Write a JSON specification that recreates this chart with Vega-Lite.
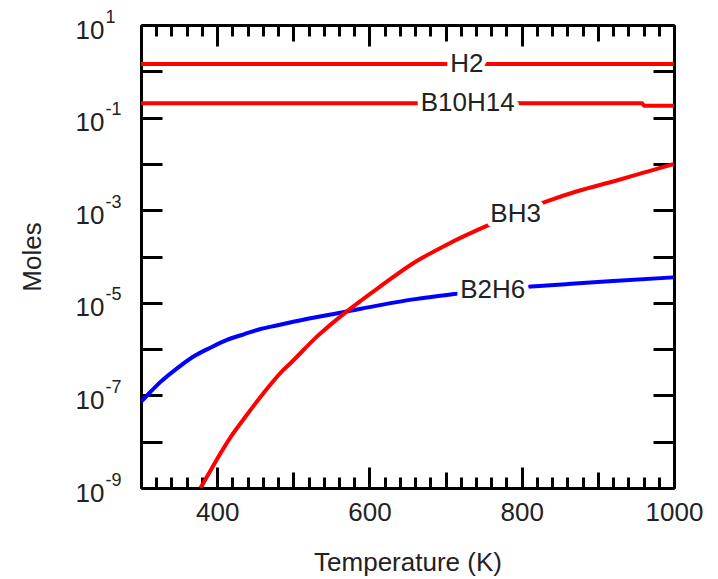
{
  "$schema": "https://vega.github.io/schema/vega-lite/v6.json",
  "width": 533,
  "height": 463,
  "autosize": {"type": "none"},
  "padding": {"left": 141, "top": 25, "right": 44, "bottom": 91},
  "background": "white",
  "config": {"view": {"stroke": null}, "font": "Liberation Sans"},
  "datasets": {
    "curves": [
      {"species": "H2", "T": 300, "moles": 1.44},
      {"species": "H2", "T": 1000, "moles": 1.44},
      {"species": "B10H14", "T": 300, "moles": 0.204},
      {"species": "B10H14", "T": 958, "moles": 0.204},
      {"species": "B10H14", "T": 961, "moles": 0.18},
      {"species": "B10H14", "T": 1000, "moles": 0.18},
      {"species": "B2H6", "T": 300, "moles": 7.24e-8},
      {"species": "B2H6", "T": 312, "moles": 1.17e-7},
      {"species": "B2H6", "T": 325, "moles": 1.91e-7},
      {"species": "B2H6", "T": 347, "moles": 3.8e-7},
      {"species": "B2H6", "T": 369, "moles": 6.92e-7},
      {"species": "B2H6", "T": 391, "moles": 1.07e-6},
      {"species": "B2H6", "T": 413, "moles": 1.58e-6},
      {"species": "B2H6", "T": 435, "moles": 2.09e-6},
      {"species": "B2H6", "T": 456, "moles": 2.69e-6},
      {"species": "B2H6", "T": 478, "moles": 3.24e-6},
      {"species": "B2H6", "T": 500, "moles": 3.89e-6},
      {"species": "B2H6", "T": 570, "moles": 6.46e-6},
      {"species": "B2H6", "T": 614, "moles": 8.91e-6},
      {"species": "B2H6", "T": 660, "moles": 1.2e-5},
      {"species": "B2H6", "T": 712, "moles": 1.55e-5},
      {"species": "B2H6", "T": 760, "moles": 1.91e-5},
      {"species": "B2H6", "T": 813, "moles": 2.24e-5},
      {"species": "B2H6", "T": 865, "moles": 2.57e-5},
      {"species": "B2H6", "T": 920, "moles": 2.95e-5},
      {"species": "B2H6", "T": 1000, "moles": 3.55e-5},
      {"species": "BH3", "T": 378, "moles": 1.0e-9},
      {"species": "BH3", "T": 382, "moles": 1.29e-9},
      {"species": "BH3", "T": 390, "moles": 2.19e-9},
      {"species": "BH3", "T": 399, "moles": 3.98e-9},
      {"species": "BH3", "T": 410, "moles": 7.94e-9},
      {"species": "BH3", "T": 421, "moles": 1.51e-8},
      {"species": "BH3", "T": 434, "moles": 2.95e-8},
      {"species": "BH3", "T": 460, "moles": 1.07e-7},
      {"species": "BH3", "T": 487, "moles": 3.55e-7},
      {"species": "BH3", "T": 496, "moles": 4.9e-7},
      {"species": "BH3", "T": 531, "moles": 1.86e-6},
      {"species": "BH3", "T": 570, "moles": 6.46e-6},
      {"species": "BH3", "T": 590, "moles": 1.15e-5},
      {"species": "BH3", "T": 614, "moles": 2.24e-5},
      {"species": "BH3", "T": 657, "moles": 7.08e-5},
      {"species": "BH3", "T": 701, "moles": 1.78e-4},
      {"species": "BH3", "T": 754, "moles": 4.57e-4},
      {"species": "BH3", "T": 790, "moles": 8.13e-4},
      {"species": "BH3", "T": 831, "moles": 1.51e-3},
      {"species": "BH3", "T": 875, "moles": 2.63e-3},
      {"species": "BH3", "T": 920, "moles": 4.17e-3},
      {"species": "BH3", "T": 960, "moles": 6.46e-3},
      {"species": "BH3", "T": 1000, "moles": 1.0e-2}
    ],
    "labels": [
      {"species": "H2", "T": 728, "moles": 1.44},
      {"species": "B10H14", "T": 729, "moles": 0.204},
      {"species": "BH3", "T": 792, "moles": 8.3e-4},
      {"species": "B2H6", "T": 762, "moles": 1.9e-5}
    ]
  },
  "layer": [
    {
      "data": {"name": "curves"},
      "mark": {"type": "line", "strokeWidth": 4, "clip": true, "interpolate": "monotone"},
      "encoding": {
        "x": {
          "field": "T", "type": "quantitative",
          "scale": {"domain": [300, 1000], "nice": false, "zero": false},
          "axis": {
            "orient": "bottom",
            "values": [300,320,340,360,380,400,420,440,460,480,500,520,540,560,580,600,620,640,660,680,700,720,740,760,780,800,820,840,860,880,900,920,940,960,980,1000],
            "grid": false,
            "domainColor": "black", "domainWidth": 3,
            "tickColor": "black", "tickWidth": 3,
            "tickSize": {"condition": [{"test": "datum.value % 200 === 0", "value": -21}, {"test": "datum.value % 100 === 0", "value": -16}], "value": -11},
            "labelExpr": "datum.value % 200 === 0 ? datum.label : ''",
            "format": "d",
            "labelFlush": false, "labelOverlap": false,
            "labelFont": "Liberation Sans", "labelFontSize": 26, "labelColor": "#222",
            "labelPadding": 32,
            "title": "Temperature (K)",
            "titleFont": "Liberation Sans", "titleFontSize": 26, "titleFontWeight": "normal", "titleColor": "#222",
            "titlePadding": 14
          }
        },
        "y": {
          "field": "moles", "type": "quantitative",
          "scale": {"type": "log", "domain": [1e-9, 10], "nice": false},
          "axis": {
            "orient": "left",
            "values": [1e-9,1e-8,1e-7,1e-6,1e-5,1e-4,1e-3,1e-2,1e-1,1,10],
            "grid": false,
            "domainColor": "black", "domainWidth": 3,
            "tickColor": "black", "tickWidth": 3, "tickSize": -21,
            "labelExpr": "(round(log(datum.value)/LN10) % 2 !== 0) ? '10' : ''",
            "labelFlush": false, "labelOverlap": false,
            "labelFont": "Liberation Sans", "labelFontSize": 26, "labelColor": "#222",
            "labelPadding": 58, "labelOffset": 5,
            "title": "Moles",
            "titleFont": "Liberation Sans", "titleFontSize": 26, "titleFontWeight": "normal", "titleColor": "#222",
            "titlePadding": 30
          }
        },
        "color": {
          "field": "species", "type": "nominal",
          "scale": {"domain": ["B2H6", "H2", "B10H14", "BH3"], "range": ["#0000ff", "#ff0000", "#ff0000", "#ff0000"]},
          "legend": null
        }
      }
    },
    {
      "data": {"name": "labels"},
      "mark": {"type": "text", "font": "Liberation Sans", "fontSize": 26, "fill": "white", "stroke": "white", "strokeWidth": 10, "strokeJoin": "round", "align": "center", "baseline": "middle"},
      "encoding": {
        "x": {
          "field": "T", "type": "quantitative",
          "scale": {"domain": [300, 1000], "nice": false, "zero": false},
          "axis": {
            "orient": "top",
            "values": [300,320,340,360,380,400,420,440,460,480,500,520,540,560,580,600,620,640,660,680,700,720,740,760,780,800,820,840,860,880,900,920,940,960,980,1000],
            "grid": false, "labels": false, "title": null,
            "domainColor": "black", "domainWidth": 3,
            "tickColor": "black", "tickWidth": 3,
            "tickSize": {"condition": [{"test": "datum.value % 200 === 0", "value": -21}, {"test": "datum.value % 100 === 0", "value": -16}], "value": -11}
          }
        },
        "y": {
          "field": "moles", "type": "quantitative",
          "scale": {"type": "log", "domain": [1e-9, 10], "nice": false},
          "axis": {
            "orient": "right",
            "values": [1e-9,1e-8,1e-7,1e-6,1e-5,1e-4,1e-3,1e-2,1e-1,1,10],
            "grid": false, "labels": false, "title": null,
            "domainColor": "black", "domainWidth": 3,
            "tickColor": "black", "tickWidth": 3, "tickSize": -21
          }
        },
        "text": {"field": "species", "type": "nominal"}
      }
    },
    {
      "data": {"name": "labels"},
      "mark": {"type": "text", "font": "Liberation Sans", "fontSize": 26, "fill": "#222", "align": "center", "baseline": "middle"},
      "encoding": {
        "x": {"field": "T", "type": "quantitative", "scale": {"domain": [300, 1000], "nice": false, "zero": false}, "axis": null},
        "y": {
          "field": "moles", "type": "quantitative",
          "scale": {"type": "log", "domain": [1e-9, 10], "nice": false},
          "axis": {
            "orient": "left",
            "values": [1e-9,1e-8,1e-7,1e-6,1e-5,1e-4,1e-3,1e-2,1e-1,1,10],
            "grid": false, "domain": false, "ticks": false, "title": null,
            "labelExpr": "(round(log(datum.value)/LN10) % 2 !== 0) ? ('' + round(log(datum.value)/LN10)) : ''",
            "labelFlush": false, "labelOverlap": false,
            "labelAlign": "left",
            "labelFont": "Liberation Sans", "labelFontSize": 18, "labelColor": "#222",
            "labelPadding": 36, "labelOffset": -8
          }
        },
        "text": {"field": "species", "type": "nominal"}
      }
    }
  ],
  "resolve": {"axis": {"x": "independent", "y": "independent"}}
}
